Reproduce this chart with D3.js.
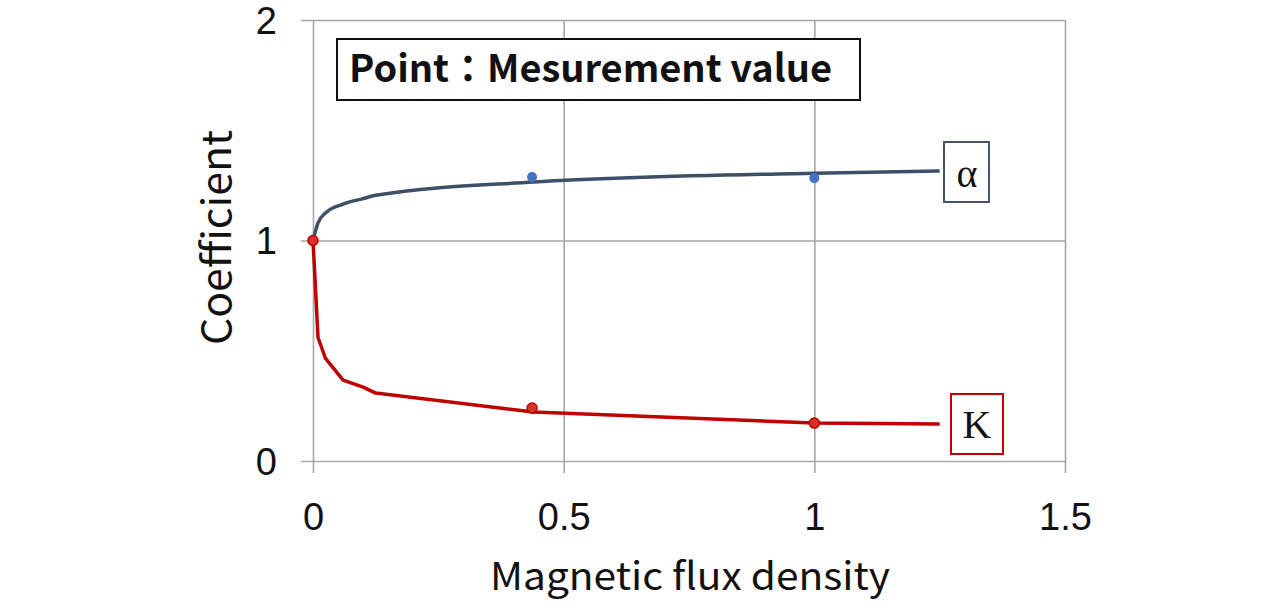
<!DOCTYPE html>
<html>
<head>
<meta charset="utf-8">
<script src="https://cdn.jsdelivr.net/npm/d3@7"></script>
<style>
  body { margin: 0; background: #fff; }
</style>
</head>
<body>
<div id="chart"></div>
<script>
// magnetic flux density (x) and the two coefficients
var fluxB = [0, 0.01, 0.025, 0.06, 0.1, 0.125, 0.44, 1.0, 1.25];
var alphaCurve = [1.0, 1.08, 1.125, 1.165, 1.19, 1.205, 1.265, 1.305, 1.315];
var kCurve = [1.0, 0.56, 0.465, 0.367, 0.335, 0.308, 0.222, 0.172, 0.168];

// measured points
var measB = [0.437, 1.0];
var alphaMeas = [1.288, 1.283];
var kMeasB = [0, 0.437, 1.0];
var kMeas = [1.0, 0.24, 0.172];

var xTicks = [0, 0.5, 1, 1.5];
var yTicks = [0, 1, 2];

var svgWidth = 1284;
var svgHeight = 604;

var margin = { top: 20, right: 219, bottom: 143, left: 313 };
var width = svgWidth - margin.left - margin.right;
var height = svgHeight - margin.top - margin.bottom;

var svg = d3.select("#chart")
  .append("svg")
  .attr("width", svgWidth)
  .attr("height", svgHeight);

var g = svg.append("g")
  .attr("transform", `translate(${margin.left}, ${margin.top})`);

var x = d3.scaleLinear().domain([0, 1.5]).range([0, width]);
var y = d3.scaleLinear().domain([0, 2]).range([height, 0]);

var gridColor = "#a6a6a6";

// vertical gridlines / x ticks
var xAxis = d3.axisBottom(x)
  .tickValues(xTicks)
  .tickSize(-height - 12)
  .tickFormat(d3.format("~g"));
var xg = g.append("g")
  .attr("transform", `translate(0, ${height + 12})`)
  .call(xAxis);
xg.select(".domain").remove();
xg.selectAll("line").attr("stroke", gridColor).attr("stroke-width", 1.6);
xg.selectAll("text")
  .attr("y", 30)
  .attr("dy", "0.71em")
  .attr("fill", "#111")
  .style("font-family", "'Liberation Sans', Arial, sans-serif")
  .style("font-size", "38px");

// horizontal gridlines / y ticks
var yAxis = d3.axisLeft(y)
  .tickValues(yTicks)
  .tickSize(-width - 12)
  .tickFormat(d3.format("d"));
var yg = g.append("g")
  .attr("transform", "translate(-12, 0)")
  .call(yAxis);
yg.select(".domain").remove();
yg.selectAll("line").attr("stroke", gridColor).attr("stroke-width", 1.6);
yg.selectAll("text")
  .attr("x", -24)
  .attr("dy", "0.35em")
  .attr("fill", "#111")
  .style("font-family", "'Liberation Sans', Arial, sans-serif")
  .style("font-size", "38px");

// axis titles
svg.append("text")
  .attr("x", 490)
  .attr("y", 590)
  .attr("textLength", 400)
  .attr("lengthAdjust", "spacingAndGlyphs")
  .style("font-family", "'Noto Sans CJK JP', 'Noto Sans', sans-serif")
  .style("font-size", "38px")
  .attr("fill", "#111")
  .text("Magnetic flux density");

svg.append("text")
  .attr("transform", "translate(231, 345) rotate(-90)")
  .attr("textLength", 215)
  .attr("lengthAdjust", "spacingAndGlyphs")
  .style("font-family", "'Noto Sans CJK JP', 'Noto Sans', sans-serif")
  .style("font-size", "40px")
  .attr("fill", "#111")
  .text("Coefficient");

// curves
var alphaLine = d3.line()
  .x((d, i) => x(fluxB[i]))
  .y(d => y(d))
  .curve(d3.curveMonotoneX);

var kLine = d3.line()
  .x((d, i) => x(fluxB[i]))
  .y(d => y(d));

g.append("path")
  .datum(alphaCurve)
  .attr("d", alphaLine)
  .attr("fill", "none")
  .attr("stroke", "#3d4f69")
  .attr("stroke-width", 3.5)
  .attr("stroke-linejoin", "round");

g.append("path")
  .datum(kCurve)
  .attr("d", kLine)
  .attr("fill", "none")
  .attr("stroke", "#c00000")
  .attr("stroke-width", 3.5)
  .attr("stroke-linejoin", "round");

// measurement points
g.selectAll(".pa")
  .data(alphaMeas)
  .enter()
  .append("circle")
  .attr("cx", (d, i) => x(measB[i]))
  .attr("cy", d => y(d))
  .attr("r", 5)
  .attr("fill", "#4472c4");

g.selectAll(".pk")
  .data(kMeas)
  .enter()
  .append("circle")
  .attr("cx", (d, i) => x(kMeasB[i]))
  .attr("cy", d => y(d))
  .attr("r", 5)
  .attr("fill", "#d8322a")
  .attr("stroke", "#c00000")
  .attr("stroke-width", 1.5);

// legend note
svg.append("rect")
  .attr("x", 337)
  .attr("y", 39)
  .attr("width", 523)
  .attr("height", 61)
  .attr("fill", "#fff")
  .attr("stroke", "#111")
  .attr("stroke-width", 2);

svg.append("text")
  .attr("x", 349)
  .attr("y", 82)
  .attr("textLength", 483)
  .attr("lengthAdjust", "spacingAndGlyphs")
  .style("font-family", "'Noto Sans CJK JP', sans-serif")
  .style("font-weight", "bold")
  .style("font-size", "38px")
  .attr("fill", "#111")
  .text("Point：Mesurement value");

// series labels
svg.append("rect")
  .attr("x", 944)
  .attr("y", 142)
  .attr("width", 45)
  .attr("height", 60)
  .attr("fill", "#fff")
  .attr("stroke", "#44546a")
  .attr("stroke-width", 2);
svg.append("text")
  .attr("x", 967)
  .attr("y", 187)
  .attr("text-anchor", "middle")
  .style("font-family", "'Liberation Serif', 'Times New Roman', serif")
  .style("font-size", "40px")
  .attr("fill", "#111")
  .text("α");

svg.append("rect")
  .attr("x", 951)
  .attr("y", 394)
  .attr("width", 52)
  .attr("height", 60)
  .attr("fill", "#fff")
  .attr("stroke", "#c00000")
  .attr("stroke-width", 2);
svg.append("text")
  .attr("x", 977)
  .attr("y", 438)
  .attr("text-anchor", "middle")
  .style("font-family", "'Liberation Serif', 'Times New Roman', serif")
  .style("font-size", "40px")
  .attr("fill", "#111")
  .text("K");
</script>
</body>
</html>
